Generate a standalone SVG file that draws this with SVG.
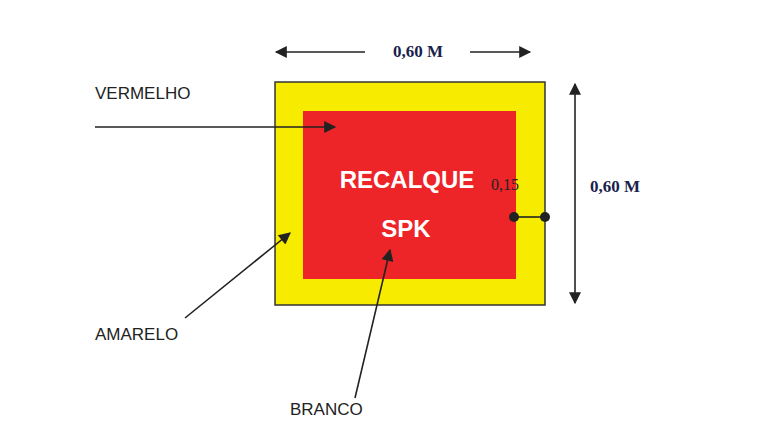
<svg xmlns="http://www.w3.org/2000/svg" width="764" height="447" viewBox="0 0 764 447">
<defs>
<marker id="ah" viewBox="0 0 10 10" refX="9" refY="5" markerWidth="10" markerHeight="10" markerUnits="userSpaceOnUse" orient="auto-start-reverse"><path d="M0,1 L10,5 L0,9 z" fill="#222"/></marker>
<marker id="ab" viewBox="0 0 10 10" refX="9" refY="5" markerWidth="14" markerHeight="12" markerUnits="userSpaceOnUse" orient="auto-start-reverse"><path d="M0,0 L10,5 L0,10 z" fill="#222"/></marker>
</defs>
<style>
.lbl{font-family:"Liberation Sans",Arial,sans-serif;font-size:17px;fill:#222}
.dim{font-family:"Liberation Serif","Times New Roman",serif;font-size:17px;font-weight:bold;fill:#1a1f4d}
.w{font-family:"Liberation Sans",Arial,sans-serif;font-size:24px;font-weight:bold;fill:#fff;text-anchor:middle}
.ln{stroke:#222;stroke-width:1.6;fill:none}
</style>
<rect width="764" height="447" fill="#fff"/>
<g id="placa">
<rect x="275" y="82" width="270" height="223" fill="#f7ec00" stroke="#333" stroke-width="1.5"/>
<rect x="303" y="111" width="213" height="168" fill="#ed2428"/>
<text class="w" x="407" y="188">RECALQUE</text>
<text class="w" x="406" y="237">SPK</text>
</g>
<g id="labels">
<text class="lbl" x="95" y="99">VERMELHO</text>
<text class="lbl" x="95" y="340">AMARELO</text>
<text class="lbl" x="290" y="415">BRANCO</text>
<text class="dim" x="418" y="57" text-anchor="middle">0,60 M</text>
<text class="dim" x="590" y="192">0,60 M</text>
<text class="dim" x="491" y="190" style="fill:#222;font-weight:normal;font-size:16px">0,15</text>
</g>
<g id="connectors">
<line class="ln" x1="365" y1="52" x2="276" y2="52" marker-end="url(#ab)"/>
<line class="ln" x1="470" y1="52" x2="530" y2="52" marker-end="url(#ab)"/>
<line class="ln" x1="575" y1="84" x2="575" y2="303" marker-start="url(#ab)" marker-end="url(#ab)"/>
<line class="ln" x1="95" y1="127" x2="335" y2="127" marker-end="url(#ab)"/>
<line class="ln" x1="185" y1="318" x2="290" y2="233" marker-end="url(#ab)"/>
<line class="ln" x1="355" y1="398" x2="390" y2="250" marker-end="url(#ab)"/>
<line class="ln" x1="514" y1="217" x2="545" y2="217"/>
<circle cx="514" cy="217" r="5" fill="#222"/>
<circle cx="545" cy="217" r="5" fill="#222"/>
</g>
</svg>
